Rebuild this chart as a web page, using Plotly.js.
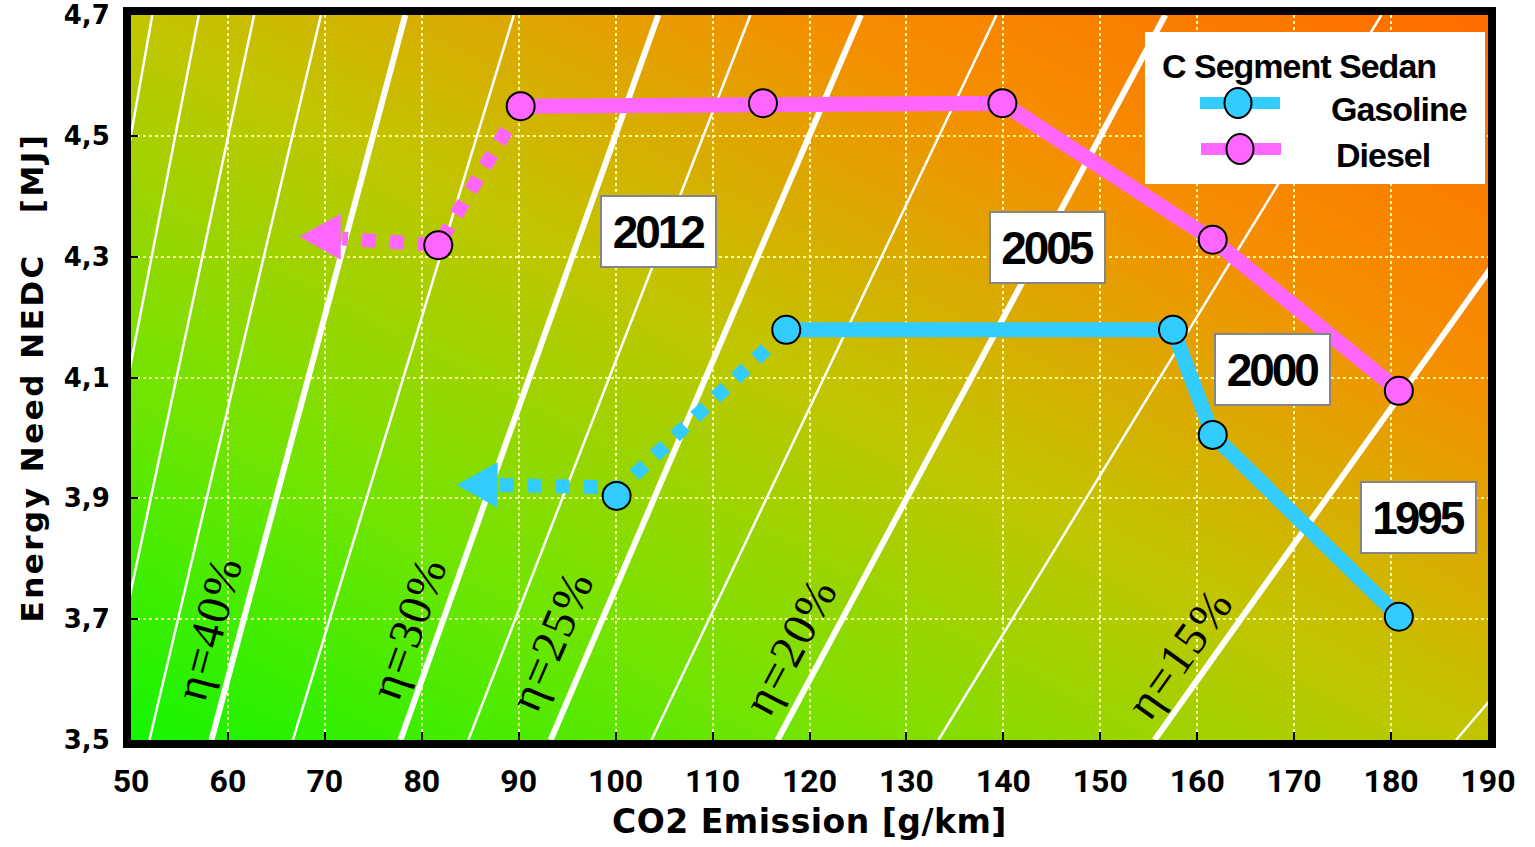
<!DOCTYPE html>
<html><head><meta charset="utf-8">
<script src="https://cdn.plot.ly/plotly-3.0.1.min.js"></script>
<style>html,body{margin:0;padding:0;background:#fff;} #chart{width:1535px;height:847px;}</style>
</head><body><div id="chart"></div>
<script>
// ---------------- data ----------------
const gasolineCO2 = [180.8, 161.6, 157.5, 117.6, 100.1];
const gasolineEnergy = [3.704, 4.005, 4.179, 4.179, 3.904];
const gasolineSolidCount = 4;
const gasolineTrendCO2 = [117.6, 100.6, 87.9];
const gasolineTrendEnergy = [4.179, 3.918, 3.922];
const gasolineArrowTip = [83.6, 3.922];

const dieselCO2 = [180.8, 161.6, 139.9, 115.2, 90.2, 81.7];
const dieselEnergy = [4.078, 4.328, 4.554, 4.554, 4.549, 4.319];
const dieselSolidCount = 5;
const dieselTrendCO2 = [90.2, 81.7, 71.8];
const dieselTrendEnergy = [4.549, 4.319, 4.330];
const dieselArrowTip = [67.4, 4.333];

const yearLabels = ['2012', '2005', '2000', '1995'];
const yearLabelCO2 = [104.4, 144.6, 167.8, 182.8];
const yearLabelEnergy = [4.342, 4.315, 4.114, 3.868];

// iso-efficiency lines: CO2 value where each crosses the bottom and top energy levels
const effEnergyBottom = 3.5;
const effEnergyTop = 4.7;
const effEta = [60, 55, 50, 45, 40, 35, 30, 27.5, 25, 22.5, 20, 17.5, 15, 12.5];
const effCO2AtBottom = [38.9, 42.4, 46.7, 51.9, 58.3, 66.7, 77.8, 84.8, 93.3, 103.7, 116.7, 133.3, 155.6, 186.7];
const effCO2AtTop = [52.2, 57.0, 62.7, 69.6, 78.3, 89.5, 104.4, 113.9, 125.3, 139.3, 156.7, 179.0, 208.9, 250.7];
const effLabelled = [40, 30, 25, 20, 15];
const effLabelCO2 = [58.0, 78.6, 93.4, 118.0, 158.2];
const effLabelEnergy = [3.685, 3.685, 3.665, 3.655, 3.644];

const xTickVals = [50, 60, 70, 80, 90, 100, 110, 120, 130, 140, 150, 160, 170, 180, 190];
const yTickVals = [3.5, 3.7, 3.9, 4.1, 4.3, 4.5, 4.7];

const legendTitle = 'C Segment Sedan';
const seriesNames = ['Gasoline', 'Diesel'];

// ---------------- layout constants ----------------
const W = 1535, H = 847;
const M = {l: 131, r: 47, t: 15, b: 107};
const xRange = [50, 190], yRange = [3.5, 4.7];
const plotW = W - M.l - M.r, plotH = H - M.t - M.b;
const pxPerX = plotW / (xRange[1] - xRange[0]);
const pxPerY = plotH / (yRange[1] - yRange[0]);
const paperX = px => (px - M.l) / plotW;
const paperY = py => (H - M.b - py) / plotH;

const CYAN = '#33ccff', MAGENTA = '#ff66ff';
const NARROW = 'Liberation Sans, Arial, sans-serif';

function gradientURL() {
  const c = document.createElement('canvas');
  c.width = plotW; c.height = plotH;
  const g = c.getContext('2d');
  const w = plotW, h = plotH, L = Math.hypot(w, h);
  const dx = h / L, dy = -w / L, len = 2 * w * h / L;
  const cx = w / 2, cy = h / 2;
  const gr = g.createLinearGradient(cx - dx * len / 2, cy - dy * len / 2, cx + dx * len / 2, cy + dy * len / 2);
  gr.addColorStop(0, 'rgb(20,245,0)');
  gr.addColorStop(0.25, 'rgb(115,228,0)');
  gr.addColorStop(0.5, 'rgb(194,197,0)');
  gr.addColorStop(0.75, 'rgb(245,142,0)');
  gr.addColorStop(1, 'rgb(255,108,0)');
  g.fillStyle = gr;
  g.fillRect(0, 0, w, h);
  return c.toDataURL('image/png');
}

// ---------------- traces ----------------
function effTrace(major) {
  const x = [], y = [];
  effEta.forEach((eta, i) => {
    const isMajor = effLabelled.indexOf(eta) >= 0;
    if (isMajor !== major) return;
    x.push(effCO2AtBottom[i], effCO2AtTop[i], null);
    y.push(effEnergyBottom, effEnergyTop, null);
  });
  return {type: 'scatter', mode: 'lines', x, y, hoverinfo: 'skip', showlegend: false,
          line: {color: '#ffffff', width: major ? 6 : 2.5}};
}

function arrowTrace(tip, color) {
  const lx = 41 / pxPerX, hy = 23 / pxPerY;
  return {type: 'scatter', mode: 'lines', fill: 'toself', fillcolor: color,
          x: [tip[0], tip[0] + lx, tip[0] + lx, tip[0]],
          y: [tip[1], tip[1] + hy, tip[1] - hy, tip[1]],
          line: {width: 0, color: color}, hoverinfo: 'skip', showlegend: false};
}

function seriesTraces(name, xs, ys, solidN, tx, ty, tip, color) {
  return [
    {type: 'scatter', mode: 'lines', x: xs.slice(0, solidN), y: ys.slice(0, solidN),
     line: {color, width: 15}, showlegend: false, hoverinfo: 'skip'},
    {type: 'scatter', mode: 'lines', x: tx, y: ty,
     line: {color, width: 14, dash: '14px,14px'}, showlegend: false, hoverinfo: 'skip'},
    arrowTrace(tip, color),
    {type: 'scatter', mode: 'markers', name, x: xs, y: ys, showlegend: false,
     marker: {size: 28, color, line: {color: '#000', width: 2}}}
  ];
}

const traces = [effTrace(false), effTrace(true)]
  .concat(seriesTraces(seriesNames[0], gasolineCO2, gasolineEnergy, gasolineSolidCount,
          gasolineTrendCO2, gasolineTrendEnergy, gasolineArrowTip, CYAN))
  .concat(seriesTraces(seriesNames[1], dieselCO2, dieselEnergy, dieselSolidCount,
          dieselTrendCO2, dieselTrendEnergy, dieselArrowTip, MAGENTA));

// ---------------- annotations ----------------
const annotations = [];
yearLabels.forEach((t, i) => {
  annotations.push({x: yearLabelCO2[i], y: yearLabelEnergy[i], xref: 'x', yref: 'y',
    text: '<span style="letter-spacing:-3px">' + t + '</span>', showarrow: false, xanchor: 'center', yanchor: 'middle',
    width: 113, height: 69, borderpad: 0, bgcolor: '#ffffff', bordercolor: '#858585', borderwidth: 2,
    font: {family: NARROW, size: 46, weight: 'bold', color: '#000'}});
});
effLabelled.forEach((eta, j) => {
  const i = effEta.indexOf(eta);
  const dxp = (effCO2AtTop[i] - effCO2AtBottom[i]) * pxPerX;
  const dyp = (effEnergyTop - effEnergyBottom) * pxPerY;
  const ang = -Math.atan2(dyp, dxp) * 180 / Math.PI;
  annotations.push({x: effLabelCO2[j], y: effLabelEnergy[j], xref: 'x', yref: 'y',
    text: '<span style="letter-spacing:2px">η=' + eta + '%</span>', showarrow: false,
    textangle: ang, xanchor: 'center', yanchor: 'middle',
    font: {family: 'Liberation Serif, DejaVu Serif, serif', size: 47, color: '#000'}});
});
// legend texts
const legendFont = {family: NARROW, size: 34, weight: 'bold', color: '#000'};
annotations.push({xref: 'paper', yref: 'paper', x: paperX(1160), y: paperY(66),
  text: '<span style="letter-spacing:-1px">' + legendTitle + '</span>',
  showarrow: false, xanchor: 'left', yanchor: 'middle', font: legendFont});
annotations.push({xref: 'paper', yref: 'paper', x: paperX(1329), y: paperY(109),
  text: '<span style="letter-spacing:-1px">' + seriesNames[0] + '</span>',
  showarrow: false, xanchor: 'left', yanchor: 'middle', font: legendFont});
annotations.push({xref: 'paper', yref: 'paper', x: paperX(1334), y: paperY(155),
  text: '<span style="letter-spacing:-1px">' + seriesNames[1] + '</span>',
  showarrow: false, xanchor: 'left', yanchor: 'middle', font: legendFont});

// ---------------- legend shapes ----------------
const shapes = [
  {type: 'rect', xref: 'paper', yref: 'paper', x0: paperX(1145), x1: paperX(1485), y0: paperY(184), y1: paperY(32),
   fillcolor: '#ffffff', line: {width: 0}, layer: 'above'},
  {type: 'line', xref: 'paper', yref: 'paper', x0: paperX(1200), x1: paperX(1280), y0: paperY(103), y1: paperY(103),
   line: {color: CYAN, width: 12}, layer: 'above'},
  {type: 'circle', xref: 'paper', yref: 'paper', xsizemode: 'pixel', ysizemode: 'pixel',
   xanchor: paperX(1238), yanchor: paperY(103), x0: -13.5, x1: 13.5, y0: -15, y1: 15,
   fillcolor: CYAN, line: {color: '#000', width: 2}, layer: 'above'},
  {type: 'line', xref: 'paper', yref: 'paper', x0: paperX(1201), x1: paperX(1281), y0: paperY(149), y1: paperY(149),
   line: {color: MAGENTA, width: 12}, layer: 'above'},
  {type: 'circle', xref: 'paper', yref: 'paper', xsizemode: 'pixel', ysizemode: 'pixel',
   xanchor: paperX(1240), yanchor: paperY(149), x0: -13.5, x1: 13.5, y0: -15, y1: 15,
   fillcolor: MAGENTA, line: {color: '#000', width: 2}, layer: 'above'}
];

const gridStyle = {showgrid: true, gridcolor: 'rgba(255,255,185,0.95)', gridwidth: 2, griddash: 'dot'};

const layout = {
  width: W, height: H, margin: M, autosize: false,
  paper_bgcolor: '#ffffff', plot_bgcolor: 'rgba(0,0,0,0)',
  separators: ',.',
  showlegend: false,
  xaxis: Object.assign({range: xRange, tickmode: 'array', tickvals: xTickVals, zeroline: false,
    showline: true, linecolor: '#000', linewidth: 8, mirror: true,
    ticks: 'inside', ticklen: 8, tickwidth: 2, tickcolor: '#000', ticklabelstandoff: 6,
    tickfont: {family: 'Roboto, sans-serif', size: 32, weight: 'bold', color: '#000'},
    title: {text: '<span style="letter-spacing:0.5px">CO2 Emission [g/km]</span>', standoff: 13,
      font: {family: 'DejaVu Sans, sans-serif', size: 33, weight: 'bold', color: '#000'}}}, gridStyle),
  yaxis: Object.assign({range: yRange, tickmode: 'array', tickvals: yTickVals, tickformat: '.1f', zeroline: false,
    showline: true, linecolor: '#000', linewidth: 8, mirror: true,
    ticks: 'inside', ticklen: 7, tickwidth: 2, tickcolor: '#000', ticklabelstandoff: 8,
    tickfont: {family: 'DejaVu Sans, sans-serif', size: 26, weight: 'bold', color: '#000'},
    title: {text: '<span style="letter-spacing:2.5px">Energy Need NEDC   [MJ]</span>', standoff: 14,
      font: {family: 'DejaVu Sans, sans-serif', size: 31, weight: 'bold', color: '#000'}}}, gridStyle),
  images: [{source: gradientURL(), xref: 'paper', yref: 'paper', x: 0, y: 1, sizex: 1, sizey: 1,
            xanchor: 'left', yanchor: 'top', sizing: 'stretch', layer: 'below'}],
  annotations, shapes
};

Plotly.newPlot('chart', traces, layout, {displayModeBar: false, staticPlot: true});
</script>
</body></html>
